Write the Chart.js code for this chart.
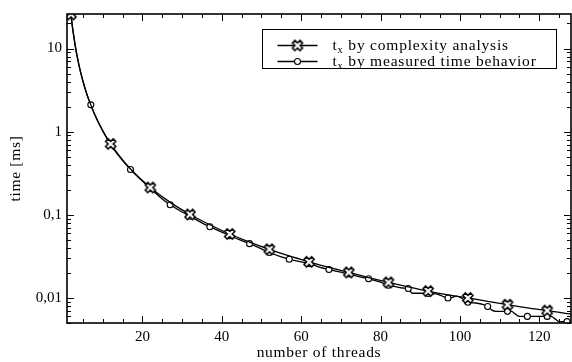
<!DOCTYPE html>
<html>
<head>
<meta charset="utf-8">
<script src="https://cdn.jsdelivr.net/npm/chart.js@4.4.1/dist/chart.umd.min.js"></script>
<style>
  html, body { margin: 0; padding: 0; background: #fff; }
</style>
</head>
<body>
<canvas id="chart" width="572" height="362"></canvas>
<script>
// values (time in ms, log scale)
const threadsComplexity = [1, 2, 3, 4, 5, 6, 7, 8, 10, 12, 14, 17, 22, 27, 32, 37, 42, 47, 52, 57, 62, 67, 72, 77, 82, 87, 92, 97, 102, 107, 112, 117, 122, 127, 128];
const timeComplexity = [103, 25.7, 11.4, 6.4, 4.1, 2.85, 2.1, 1.6, 1.03, 0.713, 0.525, 0.356, 0.213, 0.141, 0.101, 0.076, 0.0588, 0.047, 0.0385, 0.032, 0.0272, 0.0233, 0.0203, 0.0176, 0.0154, 0.0136, 0.0121, 0.0109, 0.0100, 0.0091, 0.0083, 0.0076, 0.00705, 0.0065, 0.0064];

const threadsMeasured = [1, 2, 3, 4, 5, 6, 7, 8, 10, 12, 14, 17, 20, 22, 25, 27, 30, 32, 35, 37, 40, 42, 45, 47, 50, 52, 55, 57, 60, 62, 65, 67, 70, 72, 75, 77, 80, 82, 84, 86, 87, 88, 90, 92, 94, 95, 96, 97, 98, 99, 100, 101, 102, 104, 106, 107, 108, 109, 110, 112, 113, 114, 115, 117, 120, 122, 123, 124, 125, 127, 128];
const timeMeasured = [103, 25.5, 11.3, 6.3, 4.05, 2.8, 2.1, 1.6, 1.02, 0.70, 0.515, 0.35, 0.255, 0.208, 0.155, 0.132, 0.108, 0.096, 0.080, 0.072, 0.062, 0.056, 0.049, 0.045, 0.039, 0.0352, 0.0312, 0.0292, 0.0272, 0.0260, 0.0232, 0.0220, 0.0204, 0.0194, 0.0178, 0.0170, 0.0155, 0.0142, 0.0136, 0.0131, 0.0130, 0.0114, 0.0114, 0.0113, 0.0112, 0.0108, 0.0103, 0.0100, 0.0101, 0.0105, 0.0102, 0.0095, 0.0089, 0.0087, 0.0083, 0.0079, 0.0072, 0.0069, 0.0069, 0.0069, 0.0069, 0.0064, 0.0060, 0.0060, 0.0060, 0.0060, 0.0060, 0.0056, 0.0052, 0.0052, 0.0052];

// which samples carry a marker
const complexityMarks = [2, 12, 22, 32, 42, 52, 62, 72, 82, 92, 102, 112, 122];
const measuredMarks = [2, 7, 12, 17, 22, 27, 32, 37, 42, 47, 52, 57, 62, 67, 72, 77, 82, 87, 92, 97, 102, 107, 112, 117, 122, 127];

const xTicks = [20, 40, 60, 80, 100, 120];
const yTicks = [0.01, 0.1, 1, 10];
const yTickLabels = ["0,01", "0,1", "1", "10"];
const legendLabels = ["by complexity analysis", "by measured time behavior"];

const FONT = "Liberation Serif";

function makeCross(size) {
    const c = document.createElement("canvas");
    c.width = c.height = size;
    const g = c.getContext("2d");
    const L = 5.4, w = 1.8;
    const pts = [[w, L], [w, w], [L, w], [L, -w], [w, -w], [w, -L], [-w, -L], [-w, -w], [-L, -w], [-L, w], [-w, w], [-w, L]];
    g.translate(size / 2, size / 2);
    g.rotate(Math.PI / 4);
    g.beginPath();
    pts.forEach(([px, py], i) => (i ? g.lineTo(px, py) : g.moveTo(px, py)));
    g.closePath();
    g.fillStyle = "#fff";
    g.fill();
    g.lineJoin = "miter";
    g.lineWidth = 1.5;
    g.strokeStyle = "#000";
    g.stroke();
    return c;
}
const crossMark = makeCross(14);

function drawCircle(ctx, x, y) {
    ctx.beginPath();
    ctx.arc(x, y, 3, 0, Math.PI * 2);
    ctx.fillStyle = "#fff";
    ctx.fill();
    ctx.lineWidth = 1.1;
    ctx.strokeStyle = "#000";
    ctx.stroke();
}

// text spacing hack: axis titles are drawn before the datasets, tick labels after
const spacing = {
    id: "spacing",
    beforeDraw(chart) { chart.ctx.letterSpacing = "0.7px"; },
    beforeDatasetsDraw(chart) { chart.ctx.letterSpacing = "0px"; },
};

const frameAndLegend = {
    id: "frameAndLegend",
    afterDraw(chart) {
        const { ctx, chartArea: a } = chart;
        const x = chart.scales.x, y = chart.scales.y;
        ctx.save();
        ctx.strokeStyle = "#000";
        ctx.lineWidth = 1;
        ctx.beginPath();
        for (let v = 5; v < 128; v += 5) {
            const px = Math.round(x.getPixelForValue(v)) + 0.5;
            const len = v % 20 === 0 ? 7 : 4;
            ctx.moveTo(px, a.bottom); ctx.lineTo(px, a.bottom - len);
            ctx.moveTo(px, a.top); ctx.lineTo(px, a.top + len);
        }
        for (let e = -3; e <= 1; e++) {
            for (let m = 1; m <= 9; m++) {
                const v = m * Math.pow(10, e);
                if (v < y.min || v > y.max) continue;
                const py = Math.round(y.getPixelForValue(v)) + 0.5;
                const len = m === 1 ? 7 : 4;
                ctx.moveTo(a.left, py); ctx.lineTo(a.left + len, py);
                ctx.moveTo(a.right, py); ctx.lineTo(a.right - len, py);
            }
        }
        ctx.stroke();
        ctx.lineWidth = 1.6;
        ctx.strokeRect(a.left, a.top, a.right - a.left, a.bottom - a.top);

        // legend box
        const bw = 294, bh = 39;
        const bx = Math.round(a.right - 15 - bw) + 0.5, by = Math.round(a.top + 15) + 0.5;
        ctx.fillStyle = "#fff";
        ctx.fillRect(bx, by, bw, bh);
        ctx.lineWidth = 1;
        ctx.strokeRect(bx, by, bw, bh);
        const rows = [by + 16, by + 32];
        ctx.letterSpacing = "0.8px";
        rows.forEach((ry, i) => {
            ctx.beginPath();
            ctx.moveTo(bx + 15, ry); ctx.lineTo(bx + 55, ry);
            ctx.lineWidth = 1.3;
            ctx.strokeStyle = "#000";
            ctx.stroke();
            if (i === 0) ctx.drawImage(crossMark, bx + 35 - 7, ry - 7);
            else drawCircle(ctx, bx + 35, ry);
            ctx.fillStyle = "#000";
            ctx.textBaseline = "alphabetic";
            ctx.textAlign = "left";
            let tx = bx + 70;
            ctx.font = `15.5px "${FONT}"`;
            ctx.fillText("t", tx, ry + 4);
            tx += ctx.measureText("t").width;
            ctx.font = `10.5px "${FONT}"`;
            ctx.fillText("x", tx, ry + 7);
            tx += ctx.measureText("x").width;
            ctx.font = `15.5px "${FONT}"`;
            ctx.fillText(" " + legendLabels[i], tx, ry + 4);
        });
        ctx.restore();
    },
};

const tickFont = { family: FONT, size: 15 };
const titleFont = { family: FONT, size: 15.5 };

new Chart(document.getElementById("chart"), {
    type: "line",
    data: {
        datasets: [
            {
                label: "tₓ " + legendLabels[0],
                data: threadsComplexity.map((t, i) => ({ x: t, y: timeComplexity[i] })),
                borderColor: "#000",
                borderWidth: 1.3,
                cubicInterpolationMode: "monotone",
                pointStyle: crossMark,
                pointRadius: (c) => (c.raw && complexityMarks.includes(c.raw.x) ? 5 : 0),
                fill: false,
            },
            {
                label: "tₓ " + legendLabels[1],
                data: threadsMeasured.map((t, i) => ({ x: t, y: timeMeasured[i] })),
                borderColor: "#000",
                borderWidth: 1.3,
                cubicInterpolationMode: "monotone",
                pointStyle: "circle",
                pointRadius: (c) => (c.raw && measuredMarks.includes(c.raw.x) ? 3 : 0),
                pointBackgroundColor: "#fff",
                pointBorderColor: "#000",
                pointBorderWidth: 1.1,
                fill: false,
            },
        ],
    },
    options: {
        responsive: false,
        animation: false,
        events: [],
        layout: { padding: { top: 11, right: 1, left: 0, bottom: 0 } },
        plugins: { legend: { display: false }, tooltip: { enabled: false } },
        scales: {
            x: {
                type: "linear",
                min: 1,
                max: 128,
                afterBuildTicks: (s) => { s.ticks = xTicks.map((v) => ({ value: v })); },
                afterFit: (s) => { s.height = 39; },
                grid: { display: false, drawTicks: false },
                border: { display: false },
                ticks: { font: tickFont, color: "#000", padding: 5, maxRotation: 0, autoSkip: false, z: 1 },
                title: { display: true, text: "number of threads", font: titleFont, color: "#000", padding: { top: 0, bottom: 0 } },
            },
            y: {
                type: "logarithmic",
                min: 0.005,
                max: 26,
                afterBuildTicks: (s) => { s.ticks = yTicks.map((v) => ({ value: v })); },
                afterFit: (s) => { s.width = 67; },
                grid: { display: false, drawTicks: false },
                border: { display: false },
                ticks: { font: tickFont, color: "#000", padding: 5, autoSkip: false, z: 1, callback: (v, i) => yTickLabels[i] },
                title: { display: true, text: "time [ms]", font: titleFont, color: "#000", padding: { top: 7, bottom: 0 } },
            },
        },
    },
    plugins: [spacing, frameAndLegend],
});
</script>
</body>
</html>
